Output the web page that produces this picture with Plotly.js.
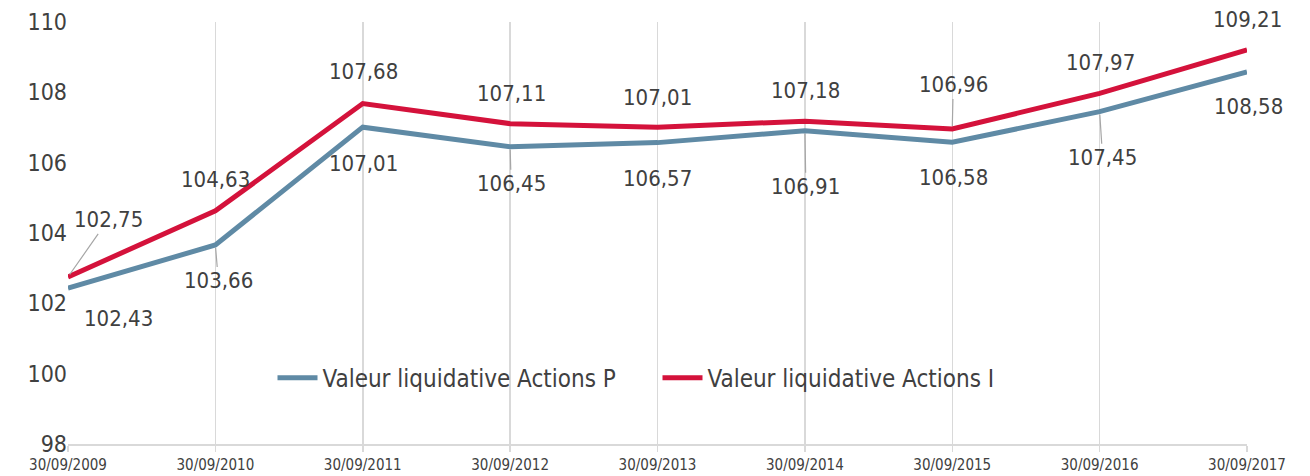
<!DOCTYPE html>
<html><head><meta charset="utf-8">
<script src="https://cdn.plot.ly/plotly-3.0.1.min.js"></script>
<style>html,body{margin:0;padding:0;background:#fff;}#chart{width:1310px;height:476px;}</style>
</head><body><div id="chart"></div>
<script>
const dates = ["30/09/2009","30/09/2010","30/09/2011","30/09/2012","30/09/2013","30/09/2014","30/09/2015","30/09/2016","30/09/2017"];
const actionsP = [102.43,103.66,107.01,106.45,106.57,106.91,106.58,107.45,108.58];
const actionsI = [102.75,104.63,107.68,107.11,107.01,107.18,106.96,107.97,109.21];
const nameP = "Valeur liquidative Actions P";
const nameI = "Valeur liquidative Actions I";

const FONT = "DejaVu Sans Condensed, DejaVu Sans, sans-serif";
const TXT = "#404040";
const idx = dates.map((d,i)=>i);
const fmt = v => v.toFixed(2).replace('.', ',');

// label offsets [ax, ay, leader]
const offI = [[40,-57,true],[0,-31,false],[1,-32,false],[1,-30,false],[0,-30,false],[1,-31,false],[1,-44,true],[1,-31,false],[0,-30,false]];
const offP = [[50,30,false],[3,36,true],[1,36,false],[1,37,true],[0,36,false],[1,56,true],[1,35,false],[3,46,true],[1,35,false]];

const annotations = [];
function addLabels(vals, offs){
  vals.forEach((v,i)=>{
    const o = offs[i];
    annotations.push({x:i, y:v, xref:'x', yref:'y', text:fmt(v), showarrow:true,
      ax:o[0], ay:o[1], arrowhead:0, arrowwidth:1.2, standoff:3,
      arrowcolor: o[2] ? '#a6a6a6' : 'rgba(0,0,0,0)',
      font:{family:FONT, size:22, color:TXT}});
  });
}
addLabels(actionsI, offI);
addLabels(actionsP, offP);

const data = [
  {x:idx, y:actionsP, name:nameP, type:'scatter', mode:'lines', line:{color:'#5f8aa5', width:5}},
  {x:idx, y:actionsI, name:nameI, type:'scatter', mode:'lines', line:{color:'#d4123b', width:5}}
];
const layout = {
  width:1310, height:476,
  margin:{l:68, r:63, t:22, b:32},
  paper_bgcolor:'#fff', plot_bgcolor:'#fff',
  font:{family:FONT, color:TXT},
  showlegend:true,
  legend:{orientation:'h', x:0.5, y:0.156, xanchor:'center', yanchor:'middle',
    font:{family:FONT, size:24, color:TXT}, bgcolor:'rgba(0,0,0,0)', itemwidth:40, tracegroupgap:0,
    entrywidth:330},
  xaxis:{range:[0,8], tickvals:idx, ticktext:dates, showgrid:true, gridcolor:'#d9d9d9', gridwidth:1.5,
    zeroline:false, showline:true, linecolor:'#d9d9d9', linewidth:1.5, ticks:'outside', ticklen:6,
    tickcolor:'#d9d9d9', tickwidth:1.5, tickfont:{family:FONT, size:15, color:TXT}, fixedrange:true},
  yaxis:{range:[98,110], dtick:2, showgrid:false, zeroline:false, showline:false, ticks:'',
    tickfont:{family:FONT, size:23, color:TXT}, ticklabelstandoff:0},
  annotations:annotations
};
Plotly.newPlot('chart', data, layout, {displayModeBar:false, staticPlot:true});
</script></body></html>
